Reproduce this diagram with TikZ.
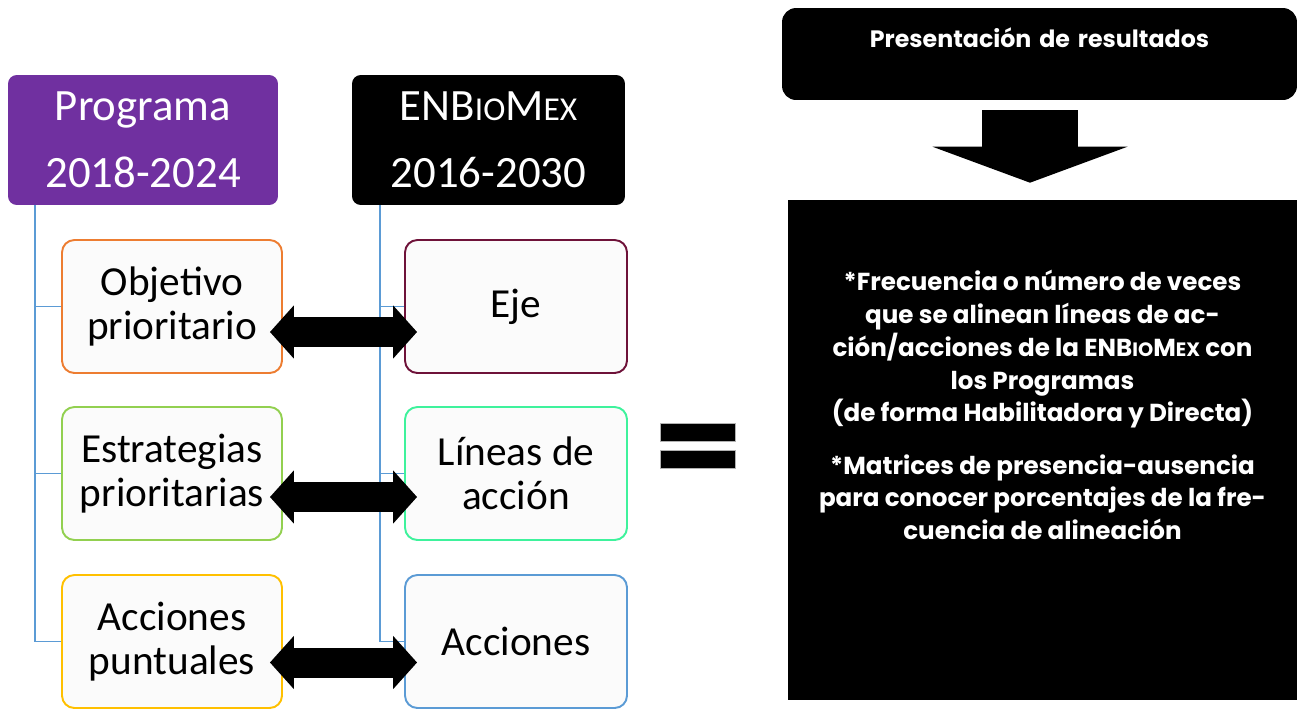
\documentclass[tikz,border=0pt]{standalone}
\usepackage{fontspec}
\setmainfont{Carlito}
\newfontfamily\gothic{Poppins}
\usetikzlibrary{arrows.meta, calc}

\definecolor{progpurple}{HTML}{7030A0}
\definecolor{objorange}{HTML}{ED7D31}
\definecolor{estgreen}{HTML}{92D050}
\definecolor{acpyellow}{HTML}{FFC000}
\definecolor{ejemaroon}{HTML}{6E1239}
\definecolor{linmint}{HTML}{3EF29C}
\definecolor{treeblue}{HTML}{5B9BD5}
\definecolor{boxfill}{HTML}{FBFBFB}

\newcommand{\smc}[2]{{\fontsize{#1}{#1}\selectfont #2}}

\tikzset{
  hdr/.style={rounded corners=5pt, minimum width=5.4cm, minimum height=2.6cm, text=white, align=center, font=\fontsize{25.5}{38}\selectfont, inner sep=0pt},
  item/.style={draw, line width=1.1pt, rounded corners=7pt, fill=boxfill, minimum width=4.4cm, minimum height=2.66cm, align=center, font=\fontsize{23.5}{25}\selectfont, inner sep=0pt},
  tree/.style={treeblue, line width=1.1pt},
  dblarrow/.style={line width=0.6cm, {Triangle[length=0.48cm,width=1.04cm]}-{Triangle[length=0.48cm,width=1.04cm]}},
}

\begin{document}
\begin{tikzpicture}[x=0.02cm, y=-0.02cm]
\useasboundingbox (0,0) rectangle (1306,708);

% headers
\node[hdr, fill=progpurple] (prog) at (143,140) {Programa\\2018-2024};
\node[hdr, fill=black, minimum width=5.46cm] (enb) at (488.5,140) {ENB\smc{19}{IO}M\smc{19}{EX}\\2016-2030};

% tree lines
\coordinate (ltop) at ($(prog.south west)+(27,0)$);
\coordinate (rtop) at ($(enb.south west)+(28,0)$);
\draw[tree] (ltop) |- (172,306.5);
\draw[tree] (ltop) |- (172,473.5);
\draw[tree] (ltop) |- (172,641.5);
\draw[tree] (rtop) |- (516,306.5);
\draw[tree] (rtop) |- (516,473.5);
\draw[tree] (rtop) |- (516,641.5);

% left column
\node[item, draw=objorange] (obj) at (172,306.5) {Objetivo\\prioritario};
\node[item, draw=estgreen] (est) at (172,473.5) {Estrategias\\prioritarias};
\node[item, draw=acpyellow] (acp) at (172,641.5) {Acciones\\puntuales};

% right column
\node[item, draw=ejemaroon, minimum width=4.44cm] (eje) at (516,306.5) {Eje};
\node[item, draw=linmint, minimum width=4.44cm] (lin) at (516,473.5) {Líneas de\\acción};
\node[item, draw=treeblue, minimum width=4.44cm] (acc) at (516,641.5) {Acciones};

% double arrows
\draw[dblarrow] ($(obj.east)+(-13,25.5)$) -- ($(eje.west)+(13,25.5)$);
\draw[dblarrow] ($(est.east)+(-13,23.5)$) -- ($(lin.west)+(13,23.5)$);
\draw[dblarrow] ($(acp.east)+(-13,21)$) -- ($(acc.west)+(13,21)$);

% equals sign
\fill[black, draw=gray!60] (660,423) rectangle (735,441);
\fill[black, draw=gray!60] (660,450) rectangle (735,468);

% results
\node[fill=black, rounded corners=8pt, text=white, inner sep=0pt, text width=10.3cm, align=center, text height=0.78cm, text depth=1.06cm, font=\gothic\bfseries\fontsize{13.5}{16}\selectfont] (pres) at (1039.5,54) {Presentación de resultados};

\node[fill=black, text=white, inner sep=0pt, minimum width=10.18cm, minimum height=10cm, font=\gothic\bfseries\fontsize{14}{18.7}\selectfont] (res) at (1042.5,450) {\parbox[c][10cm][t]{10cm}{\centering\vspace*{1.4cm}
*Frecuencia o número de veces\\
que se alinean líneas de ac-\\
ción/acciones de la ENB\smc{11}{IO}M\smc{11}{EX} con\\
los Programas\\
(de forma Habilitadora y Directa)\\[11pt]
*Matrices de presencia-ausencia\\
para conocer porcentajes de la fre-\\
cuencia de alineación}};

\coordinate (dtop) at ($(pres.south)+(-9.5,10)$);
\coordinate (dtip) at ($(res.north)+(-12.5,-17)$);
\draw[line width=1.92cm, -{Triangle[length=0.72cm,width=3.88cm]}] (dtop) -- (dtip);

\end{tikzpicture}
\end{document}
